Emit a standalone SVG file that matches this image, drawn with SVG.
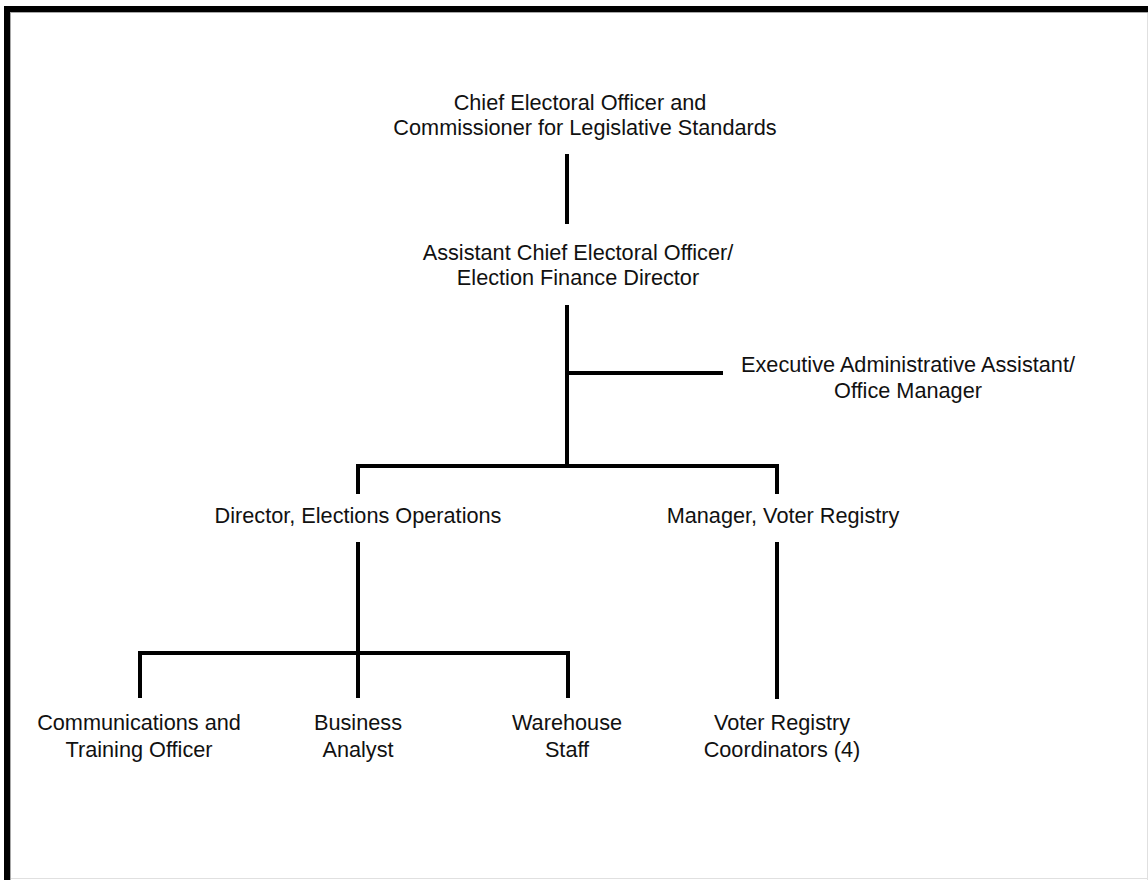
<svg xmlns="http://www.w3.org/2000/svg" width="1148" height="880" viewBox="0 0 1148 880">
<style>
text{font-family:"Liberation Sans",Arial,sans-serif;font-size:21.7px;fill:#111;text-anchor:middle}
.c{fill:none;stroke:#000;stroke-width:4;stroke-linejoin:miter;stroke-linecap:butt}
</style>
<rect x="0" y="0" width="1148" height="880" fill="#fff"/>
<g id="frame">
<rect x="4" y="6" width="1144" height="6" fill="#000"/>
<rect x="4" y="6" width="6" height="874" fill="#000"/>
<line x1="10.5" y1="12" x2="10.5" y2="880" stroke="#a8a8a8" stroke-width="1"/>
<line x1="10" y1="12.5" x2="1148" y2="12.5" stroke="#a8a8a8" stroke-width="1"/>
<line x1="1147.5" y1="13" x2="1147.5" y2="880" stroke="#e0e0e0" stroke-width="1"/>
<line x1="11" y1="878.5" x2="1148" y2="878.5" stroke="#e0e0e0" stroke-width="1"/>
</g>
<g id="connectors">
<line class="c" x1="567" y1="154" x2="567" y2="224"/>
<line class="c" x1="567" y1="305" x2="567" y2="466"/>
<line class="c" x1="567" y1="373" x2="723" y2="373"/>
<polyline class="c" points="358,494 358,466 777,466 777,494"/>
<line class="c" x1="358" y1="542" x2="358" y2="698"/>
<polyline class="c" points="140,698 140,653 568,653 568,698"/>
<line class="c" x1="777" y1="542" x2="777" y2="699"/>
</g>
<g id="ceo">
<text x="580" y="110">Chief Electoral Officer and</text>
<text x="585" y="135">Commissioner for Legislative Standards</text>
</g>
<g id="aceo">
<text x="578" y="260">Assistant Chief Electoral Officer/</text>
<text x="578" y="285">Election Finance Director</text>
</g>
<g id="exec">
<text x="908" y="372">Executive Administrative Assistant/</text>
<text x="908" y="398">Office Manager</text>
</g>
<g id="director">
<text x="358" y="523">Director, Elections Operations</text>
</g>
<g id="manager">
<text x="783" y="523">Manager, Voter Registry</text>
</g>
<g id="comms">
<text x="139" y="730">Communications and</text>
<text x="139" y="757">Training Officer</text>
</g>
<g id="analyst">
<text x="358" y="730">Business</text>
<text x="358" y="757">Analyst</text>
</g>
<g id="warehouse">
<text x="567" y="730">Warehouse</text>
<text x="567" y="757">Staff</text>
</g>
<g id="coordinators">
<text x="782" y="730">Voter Registry</text>
<text x="782" y="757">Coordinators (4)</text>
</g>
</svg>
